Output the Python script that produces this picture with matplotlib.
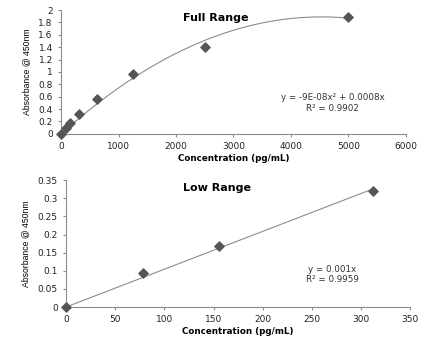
import numpy as np
import matplotlib
matplotlib.use("Agg")
import matplotlib.pyplot as plt

# Full range data
full_x = [0, 78, 156, 312, 625, 1250, 2500, 5000]
full_y = [0.0, 0.09, 0.17, 0.32, 0.56, 0.97, 1.40, 1.89]
full_xticks = [0, 1000, 2000, 3000, 4000, 5000, 6000]
full_yticks = [0, 0.2, 0.4, 0.6, 0.8, 1, 1.2, 1.4, 1.6, 1.8, 2]
full_eq = "y = -9E-08x² + 0.0008x"
full_r2 = "R² = 0.9902"

# Low range data
low_x = [0, 78, 156, 312]
low_y = [0.0, 0.093, 0.168, 0.32]
low_xticks = [0, 50, 100, 150, 200, 250, 300, 350]
low_yticks = [0, 0.05, 0.1, 0.15, 0.2, 0.25, 0.3, 0.35]
low_eq = "y = 0.001x"
low_r2 = "R² = 0.9959"

fig = plt.figure(figsize=(4.43, 3.45), dpi=100)
ax1 = fig.add_axes([0.138, 0.612, 0.778, 0.359])
ax2 = fig.add_axes([0.149, 0.110, 0.777, 0.368])

mcol = "#555555"
lcol = "#8c8c8c"
scol = "#8c8c8c"

def style(ax, xt, yt, xlim, ylim):
    ax.set_xlim(*xlim)
    ax.set_ylim(*ylim)
    ax.set_xticks(xt)
    ax.set_yticks(yt)
    ax.set_xticklabels([str(v) for v in xt])
    ax.set_yticklabels(["%g" % v for v in yt])
    for s in ["top", "right"]:
        ax.spines[s].set_visible(False)
    for s in ["left", "bottom"]:
        ax.spines[s].set_color(scol)
        ax.spines[s].set_linewidth(0.8)
    ax.tick_params(axis="both", labelsize=6.5, colors=scol, labelcolor="#222222",
                   length=2.5, width=0.8, direction="out")
    ax.set_xlabel("Concentration (pg/mL)", fontsize=6.3, fontweight="bold", labelpad=2)
    ax.set_ylabel("Absorbance @ 450nm", fontsize=6.2,
                  family=["Liberation Sans", "DejaVu Sans"],
                  labelpad=5)

# Full range: quadratic through origin fit
X = np.array(full_x, float)
Y = np.array(full_y, float)
A = np.vstack([X**2, X]).T
coef, *_ = np.linalg.lstsq(A, Y, rcond=None)
xs = np.linspace(0, 5000, 200)
ax1.plot(xs, coef[0]*xs**2 + coef[1]*xs, color=lcol, lw=0.8, zorder=2)
ax1.scatter(full_x, full_y, marker="D", s=22, color=mcol, zorder=3, clip_on=False)
style(ax1, full_xticks, full_yticks, (0, 6000), (0, 2))
ax1.text(0.45, 0.975, "Full Range", transform=ax1.transAxes, ha="center", va="top",
         fontsize=8, fontweight="bold")
ax1.text(4730, 0.50, full_eq + "\n" + full_r2, ha="center", va="center",
         fontsize=6.3, color="#333333", linespacing=1.2)

# Low range: linear through origin
Xl = np.array(low_x, float)
Yl = np.array(low_y, float)
slope = (Xl @ Yl) / (Xl @ Xl)
xl = np.linspace(0, 312, 50)
ax2.plot(xl, slope*xl, color=lcol, lw=0.8, zorder=2)
ax2.scatter(low_x, low_y, marker="D", s=22, color=mcol, zorder=3, clip_on=False)
style(ax2, low_xticks, low_yticks, (0, 350), (0, 0.35))
ax2.text(0.44, 0.975, "Low Range", transform=ax2.transAxes, ha="center", va="top",
         fontsize=8, fontweight="bold")
ax2.text(271, 0.09, low_eq + "\n" + low_r2, ha="center", va="center",
         fontsize=6.3, color="#333333", linespacing=1.2)

fig.savefig("out.png", dpi=100)
